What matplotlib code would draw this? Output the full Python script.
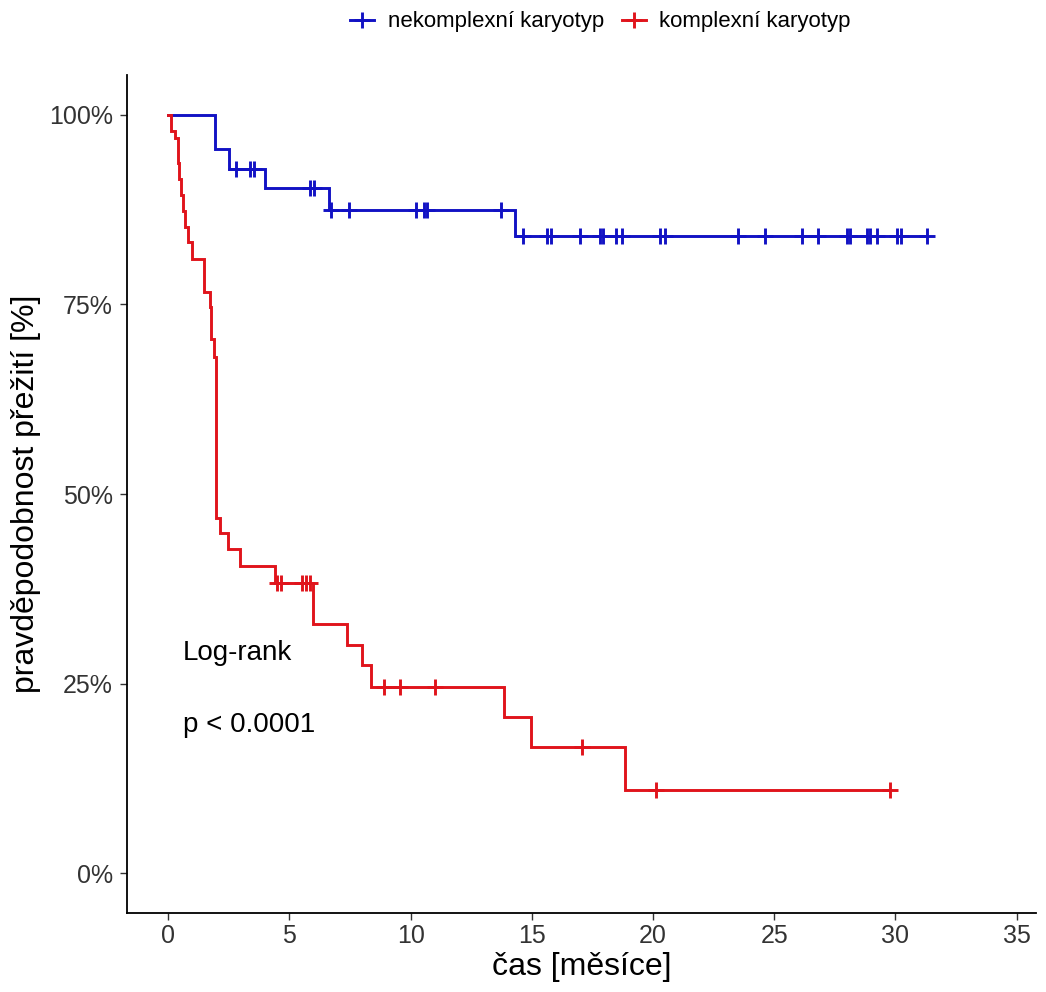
import numpy as np
import matplotlib
matplotlib.use('Agg')
import matplotlib.pyplot as plt
from matplotlib.lines import Line2D

# nekomplexní karyotyp - časy událostí [měsíce] a přežití po události [%]
blue_event_t = [0.0, 1.94, 2.52, 3.98, 6.62, 14.29]
blue_surv = [100.0, 95.5, 92.9, 90.3, 87.5, 84.0]
blue_cens_t = [2.80, 3.36, 3.52, 5.83, 6.00, 6.73, 7.44, 10.22, 10.57, 10.68,
               13.73, 14.64, 15.62, 15.79, 16.97, 17.80, 17.93, 18.49, 18.72,
               20.31, 20.48, 23.51, 24.64, 26.15, 26.80, 28.01, 28.12, 28.83,
               28.97, 29.25, 30.07, 30.24, 31.30]
blue_end = 31.30

# komplexní karyotyp
red_event_t = [0.0, 0.10, 0.28, 0.40, 0.45, 0.52, 0.62, 0.70, 0.80, 0.98,
               1.49, 1.72, 1.78, 1.88, 1.98, 2.12, 2.45, 2.98, 4.40, 5.97,
               7.37, 7.99, 8.36, 13.84, 14.96, 18.83]
red_surv = [100.0, 97.9, 96.9, 93.6, 91.6, 89.4, 87.3, 85.2, 83.2, 81.0,
            76.7, 74.6, 70.5, 68.1, 46.9, 44.8, 42.7, 40.5, 38.3, 32.9,
            30.1, 27.4, 24.6, 20.6, 16.6, 11.0]
red_cens_t = [4.50, 4.65, 5.52, 5.70, 5.86, 8.91, 9.57, 11.02, 17.07, 20.13, 29.77]
red_end = 29.77

labels = ['nekomplexní karyotyp', 'komplexní karyotyp']
colors = ['#1212c4', '#e0141c']
x_ticks = [0, 5, 10, 15, 20, 25, 30, 35]
y_ticks = [0, 25, 50, 75, 100]
y_ticklabels = ['0%', '25%', '50%', '75%', '100%']

FONT = 'Liberation Sans'


def surv_at(ev_t, surv, t):
    idx = np.searchsorted(ev_t, t, side='right') - 1
    return np.array(surv)[idx]


fig = plt.figure(figsize=(10.46, 9.92), dpi=100)
ax = fig.add_axes([0.1214, 0.0796, 0.869, 0.8448])

handles = []
for ev_t, surv, cens_t, end, col, lab in [
        (blue_event_t, blue_surv, blue_cens_t, blue_end, colors[0], labels[0]),
        (red_event_t, red_surv, red_cens_t, red_end, colors[1], labels[1])]:
    xs = list(ev_t) + [end]
    ys = list(surv) + [surv[-1]]
    ax.step(xs, ys, where='post', color=col, lw=2.1, solid_joinstyle='miter')
    ax.plot(cens_t, surv_at(ev_t, surv, cens_t), ls='none', marker='+',
            ms=12, mew=2.1, color=col)
    handles.append(Line2D([], [], color=col, lw=2.1, marker='+', ms=12,
                          mew=2.1, label=lab))

ax.text(0.62, 29.1, 'Log-rank', fontsize=20, family=FONT,
        va='center', ha='left', color='black')
ax.text(0.62, 19.6, 'p < 0.0001', fontsize=20, family=FONT,
        va='center', ha='left', color='black')

ax.set_xlim(-1.7, 35.8)
ax.set_ylim(-5.25, 105.25)
ax.set_xticks(x_ticks)
ax.set_yticks(y_ticks)
ax.set_yticklabels(y_ticklabels)
ax.tick_params(axis='both', direction='out', length=5, width=1.0,
               color='#333333', labelcolor='#333333')
for lbl in ax.get_xticklabels():
    lbl.set_fontsize(18)
    lbl.set_family(FONT)
for lbl in ax.get_yticklabels():
    lbl.set_fontsize(18)
    lbl.set_family(FONT)
ax.tick_params(axis='x', pad=3)
ax.tick_params(axis='y', pad=5)

for s in ['top', 'right']:
    ax.spines[s].set_visible(False)
for s in ['left', 'bottom']:
    ax.spines[s].set_linewidth(1.3)
    ax.spines[s].set_color('black')

ax.set_xlabel('čas [měsíce]', fontsize=23, family=FONT, labelpad=3)
ax.set_ylabel('pravděpodobnost přežití [%]', fontsize=23,
              family=FONT, labelpad=6)

fig.legend(handles=handles, loc='center', bbox_to_anchor=(0.574, 0.978),
           ncol=2, frameon=False, handlelength=1.1,
           columnspacing=0.8, handletextpad=0.6,
           prop={'family': FONT, 'size': 16})

fig.savefig('out.png', dpi=100)
